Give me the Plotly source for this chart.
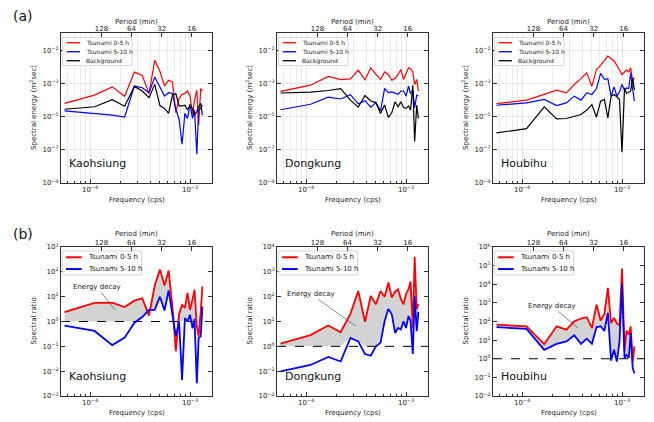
import numpy as np
import plotly.graph_objects as go

W, H = 654, 422
FONT = "DejaVu Sans"

# ---------------- data ----------------
freq = [5.56e-5, 1.11e-4, 1.67e-4, 2.22e-4, 2.78e-4, 3.33e-4, 3.89e-4, 4.44e-4,
        5.00e-4, 5.56e-4, 6.11e-4, 6.67e-4, 7.22e-4, 7.78e-4, 8.33e-4, 8.89e-4,
        9.44e-4, 1.00e-3, 1.06e-3, 1.11e-3, 1.17e-3, 1.22e-3, 1.28e-3, 1.33e-3]
period_min = [128, 64, 32, 16]
period_labels = ["128", "64", "32", "16"]
stations = ["Kaohsiung", "Dongkung", "Houbihu"]
top_names = ["Tsunami 0-5 h", "Tsunami 5-10 h", "Background"]
bot_names = ["Tsunami 0-5 h", "Tsunami 5-10 h"]

# (a) spectral energy, log10(m^2 sec)
kao_t05 = [-4.20, -3.70, -3.20, -3.77, -2.31, -2.51, -3.61, -1.60, -2.25, -3.15, -2.80, -2.90,
           -4.75, -3.90, -3.65, -3.60, -3.45, -3.75, -4.85, -4.00, -3.40, -5.50, -3.30, -3.45]
kao_t510 = [-4.65, -4.78, -4.90, -5.02, -3.15, -3.25, -3.55, -2.61, -3.25, -3.75, -3.55, -3.60,
            -4.55, -5.15, -6.66, -4.80, -5.10, -4.25, -5.10, -4.60, -7.27, -4.60, -4.50, -4.30]
kao_bg = [-4.55, -4.40, -3.97, -4.37, -3.17, -3.45, -3.85, -3.05, -4.33, -4.50, -4.80, -3.70,
          -3.60, -4.35, -4.35, -4.30, -4.60, -4.30, -4.50, -4.90, -4.70, -4.40, -4.20, -4.90]

dong_t05 = [-3.47, -3.10, -2.57, -2.76, -2.72, -2.20, -2.78, -2.05, -2.45, -2.76, -2.30, -2.45,
            -2.80, -2.70, -2.45, -2.15, -2.75, -2.40, -2.05, -2.10, -2.30, -3.06, -2.76, -3.45]
dong_t510 = [-4.58, -4.25, -3.82, -3.93, -3.67, -4.22, -4.03, -4.42, -4.15, -4.65, -3.30, -3.55,
             -3.50, -3.60, -3.65, -3.45, -3.45, -3.75, -3.15, -3.60, -3.40, -4.45, -3.70, -3.75]
dong_bg = [-3.57, -3.52, -3.42, -3.31, -4.00, -4.42, -3.72, -4.05, -4.15, -4.80, -4.30, -5.05,
           -4.75, -4.10, -4.40, -4.10, -4.45, -4.50, -4.35, -4.60, -3.10, -6.50, -4.30, -5.10]

hou_t05 = [-4.21, -4.00, -3.65, -3.40, -3.56, -3.06, -2.70, -2.35, -3.16, -2.15, -1.90, -1.60,
           -1.34, -1.50, -1.64, -1.90, -2.15, -2.45, -2.30, -2.19, -2.30, -2.05, -2.85, -2.65]
hou_t510 = [-4.31, -4.17, -3.96, -4.33, -4.17, -3.76, -4.00, -3.56, -3.66, -3.30, -2.39, -2.75,
            -2.71, -3.76, -3.20, -3.76, -3.50, -3.06, -3.40, -3.26, -3.30, -2.35, -3.36, -4.06]
hou_bg = [-5.98, -5.72, -4.41, -5.13, -5.11, -5.00, -4.87, -4.60, -4.27, -5.03, -4.06, -3.96,
          -5.07, -3.76, -3.66, -3.80, -3.96, -7.15, -3.26, -3.60, -3.50, -3.46, -2.65, -3.40]

# (b) spectral ratio, log10
kao_r05 = [0.38, 0.75, 0.76, 0.58, 0.84, 0.93, 0.23, 1.45, 2.09, 1.45, 2.05, 0.60,
           -1.20, 0.30, 0.67, 0.55, 1.15, 0.47, 0.90, 1.28, -0.20, -0.60, 0.40, 1.41]
kao_r510 = [-0.17, -0.38, -0.95, -0.65, -0.05, 0.18, 0.47, 0.47, 1.00, 0.44, 1.25, 0.30,
            -0.60, 0.00, -2.35, 0.14, 0.00, 0.27, -0.27, 0.10, -2.49, -0.66, -0.60, 0.60]
dong_r05 = [0.11, 0.45, 0.84, 0.57, 1.31, 2.23, 0.99, 2.03, 1.69, 2.23, 2.00, 2.57,
            1.96, 2.20, 2.30, 1.90, 1.69, 2.10, 2.30, 2.61, 0.74, 3.61, 1.50, 1.70]
dong_r510 = [-1.01, -0.75, -0.43, -0.61, 0.34, 0.20, -0.31, -0.38, 0.00, 0.14, 1.01, 1.51,
             1.28, 0.54, 0.74, 0.68, 1.01, 0.74, 1.22, 1.01, -0.31, 2.03, 0.61, 1.39]
hou_r05 = [1.83, 1.74, 0.79, 1.74, 1.56, 2.01, 2.16, 2.23, 1.65, 2.91, 2.05, 2.40,
           3.81, 1.92, 2.19, 1.90, 1.80, 4.85, 0.40, 1.51, 1.30, 1.74, -0.15, 0.66]
hou_r510 = [1.70, 1.60, 0.48, 0.80, 0.93, 1.26, 0.80, 1.08, 0.80, 1.69, 1.75, 1.50,
            2.46, -0.10, 0.48, -0.15, 0.93, 4.02, 0.03, 0.20, 0.05, 1.38, -0.50, -0.78]

top_series = [(kao_t05, kao_t510, kao_bg), (dong_t05, dong_t510, dong_bg), (hou_t05, hou_t510, hou_bg)]
bot_series = [(kao_r05, kao_r510), (dong_r05, dong_r510), (hou_r05, hou_r510)]
top_exp_ticks = [-9, -7, -5, -3, -1]
ratio_ranges = [[-3, 3], [-2, 4], [-2, 6]]
freq_exp_ticks = [-4, -3]
# "Energy decay" pointer: target (log f, log ratio) and text offset (px)
decay_ptr = [(-3.75, 0.47, -18, -23), (-3.50, 0.81, -45, -32), (-3.44, 1.65, -26, -22)]

# ---------------- styling / geometry ----------------
COLORS = ["#ff0000", "#0000ff", "#000000"]
AXC = "#333333"
TXT = "#222222"
col_left = [61, 277, 493]
PW = 151
rows = [(33, 183), (247, 396)]
XR = [-4.29, -2.78]
minor_vals = [m * 10.0 ** e for e in (-5, -4, -3) for m in range(2, 10)]


def pow_label(e):
    s = str(e).replace("-", "\u2212")
    return "10<sup>" + s + "</sup>"


fig = go.Figure()
layout = {}
ann = []
shp = []


def sfx(n):
    return "" if n == 1 else str(n)


for p in range(6):
    r, c = divmod(p, 3)
    n, nt = p + 1, p + 7
    top, bot = rows[r]
    xd = [col_left[c] / W, (col_left[c] + PW) / W]
    yd = [1 - bot / H, 1 - top / H]
    grid = (r == 0)
    xa, ya, xt = "x" + sfx(n), "y" + sfx(n), "x" + str(nt)

    layout["xaxis" + sfx(n)] = dict(
        type="log", range=XR, domain=xd, anchor=ya, showline=True, mirror=True, automargin=False,
        linecolor=AXC, linewidth=0.9, ticks="inside", ticklen=4, tickcolor=AXC,
        tickmode="array", tickvals=[10.0 ** e for e in freq_exp_ticks],
        ticktext=[pow_label(e) for e in freq_exp_ticks],
        tickfont=dict(size=7, color=TXT), showgrid=grid, gridcolor="#e4e4e4", gridwidth=0.6,
        zeroline=False,
        minor=dict(ticks="inside", ticklen=2, tickcolor=AXC, tickmode="array", tickvals=minor_vals,
                   showgrid=grid, gridcolor="#ececec", gridwidth=0.6))
    if r == 0:
        yr = [-9, 0.05]
        ye = top_exp_ticks
    else:
        yr = ratio_ranges[c]
        ye = list(range(yr[0], yr[1] + 1))
    layout["yaxis" + sfx(n)] = dict(
        type="log", range=yr, domain=yd, anchor=xa, showline=True, mirror="ticks", automargin=False,
        linecolor=AXC, linewidth=0.9, ticks="inside", ticklen=4, tickcolor=AXC,
        tickmode="array", tickvals=[10.0 ** e for e in ye], ticktext=[pow_label(e) for e in ye],
        tickfont=dict(size=7, color=TXT), showgrid=grid, gridcolor="#e4e4e4", gridwidth=0.6,
        zeroline=False)
    layout["xaxis" + str(nt)] = dict(
        type="log", range=XR, domain=xd, overlaying=xa, anchor=ya, side="top", automargin=False,
        tickmode="array", tickvals=[1.0 / (pm * 60) for pm in period_min], ticktext=period_labels,
        ticks="inside", ticklen=4, tickcolor=AXC, showline=False, showgrid=False, zeroline=False,
        tickfont=dict(size=7, color=TXT))

    if r == 0:
        vals = top_series[c]
        for j in range(3):
            fig.add_trace(go.Scatter(x=freq, y=np.power(10.0, vals[j]), mode="lines",
                                     line=dict(color=COLORS[j], width=1.2), xaxis=xa, yaxis=ya,
                                     showlegend=False, hoverinfo="skip"))
        fig.add_trace(go.Scatter(x=freq, y=np.power(10.0, vals[0]), mode="lines", opacity=0,
                                 line=dict(width=0), xaxis=xt, yaxis=ya, showlegend=False,
                                 hoverinfo="skip"))
    else:
        red = np.power(10.0, bot_series[c][0])
        blue = np.power(10.0, bot_series[c][1])
        lower = np.maximum(blue, 1.0)
        upper = np.maximum(red, lower)
        fig.add_trace(go.Scatter(x=freq, y=lower, mode="lines", line=dict(width=0, color="lightgray"),
                                 xaxis=xa, yaxis=ya, showlegend=False, hoverinfo="skip"))
        fig.add_trace(go.Scatter(x=freq, y=upper, mode="lines", line=dict(width=0, color="lightgray"),
                                 fill="tonexty", fillcolor="#d3d3d3", xaxis=xa, yaxis=ya,
                                 showlegend=False, hoverinfo="skip"))
        fig.add_trace(go.Scatter(x=[10 ** XR[0], 10 ** XR[1]], y=[1, 1], mode="lines",
                                 line=dict(color="black", width=1, dash="dash"),
                                 xaxis=xa, yaxis=ya, showlegend=False, hoverinfo="skip"))
        fig.add_trace(go.Scatter(x=freq, y=red, mode="lines", line=dict(color=COLORS[0], width=1.8),
                                 xaxis=xa, yaxis=ya, showlegend=False, hoverinfo="skip"))
        fig.add_trace(go.Scatter(x=freq, y=blue, mode="lines", line=dict(color=COLORS[1], width=1.8),
                                 xaxis=xa, yaxis=ya, showlegend=False, hoverinfo="skip"))
        fig.add_trace(go.Scatter(x=freq, y=lower, mode="lines", opacity=0, line=dict(width=0),
                                 xaxis=xt, yaxis=ya, showlegend=False, hoverinfo="skip"))
        lx, ly, dx, dy = decay_ptr[c]
        ann.append(dict(x=lx, y=ly, xref=xa, yref=ya, text="Energy decay", showarrow=True,
                        arrowhead=0, arrowwidth=0.7, arrowcolor="#555", ax=dx, ay=dy,
                        font=dict(size=7, color=TXT)))

    xdom, ydom = xa + " domain", ya + " domain"
    # manual legend
    if r == 0:
        box = (0.011, 0.47, 0.782, 0.969)
        ys = [0.935, 0.875, 0.815]
        names = top_names
        fs, lw, lx0, lx1, tx = 6, 1.3, 0.038, 0.126, 0.154
    else:
        box = (0.009, 0.534, 0.812, 0.973)
        ys = [0.931, 0.852]
        names = bot_names
        fs, lw, lx0, lx1, tx = 7, 2, 0.033, 0.137, 0.166
    shp.append(dict(type="rect", xref=xdom, yref=ydom, x0=box[0], x1=box[1], y0=box[2], y1=box[3],
                    line=dict(color="#cccccc", width=0.8), fillcolor="rgba(255,255,255,0.85)",
                    layer="above"))
    for j, nm in enumerate(names):
        shp.append(dict(type="line", xref=xdom, yref=ydom, x0=lx0, x1=lx1, y0=ys[j], y1=ys[j],
                        line=dict(color=COLORS[j], width=lw), layer="above"))
        ann.append(dict(x=tx, y=ys[j], xref=xdom, yref=ydom, text=nm, showarrow=False,
                        xanchor="left", yanchor="middle", font=dict(size=fs, color=TXT)))

    # station label
    ann.append(dict(x=0.04, y=0.127 if r == 0 else 0.13, xref=xdom, yref=ydom, text=stations[c],
                    showarrow=False, xanchor="left", yanchor="middle",
                    font=dict(size=11, color="#111")))
    # axis titles
    ann.append(dict(x=0.5, y=1 - (200 if r == 0 else 413) / H, xref=xdom, yref="paper",
                    text="Frequency (cps)", showarrow=False, xanchor="center", yanchor="middle",
                    font=dict(size=7, color=TXT)))
    ann.append(dict(x=0.5, y=1 - (21.7 if r == 0 else 234.3) / H, xref=xdom, yref="paper",
                    text="Period (min)", showarrow=False, xanchor="center", yanchor="middle",
                    font=dict(size=7, color=TXT)))
    ann.append(dict(x=-28 / PW, y=0.5, xref=xdom, yref=ydom,
                    text="Spectral energy (m<sup>2</sup>sec)" if r == 0 else "Spectral ratio",
                    textangle=-90, showarrow=False, xanchor="center", yanchor="middle",
                    font=dict(size=7, color=TXT)))

ann.append(dict(x=23 / W, y=1 - 16 / H, xref="paper", yref="paper", text="(a)", showarrow=False,
                xanchor="center", yanchor="middle", font=dict(size=14, color="#111")))
ann.append(dict(x=23 / W, y=1 - 234 / H, xref="paper", yref="paper", text="(b)", showarrow=False,
                xanchor="center", yanchor="middle", font=dict(size=14, color="#111")))

fig.update_layout(**layout)
fig.update_layout(width=W, height=H, margin=dict(l=0, r=0, t=0, b=0, autoexpand=False),
                  paper_bgcolor="white", plot_bgcolor="white",
                  font=dict(family=FONT, size=7, color=TXT),
                  annotations=ann, shapes=shp, showlegend=False)
fig.write_html("out.html", config={"displayModeBar": False},
               post_script="document.body.style.margin='0px';")
